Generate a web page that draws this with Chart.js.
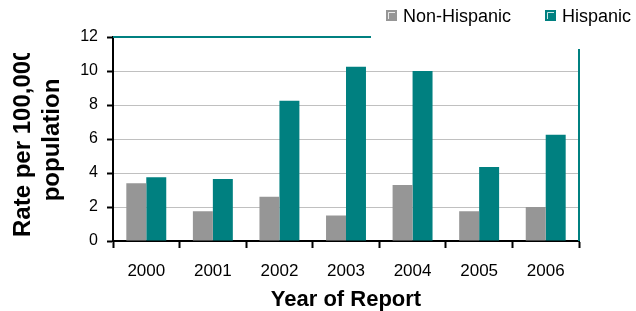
<!DOCTYPE html>
<html>
<head>
<meta charset="utf-8">
<script src="https://cdn.jsdelivr.net/npm/chart.js@4.4.0/dist/chart.umd.min.js"></script>
<style>
	body { margin: 0; background: #fff; }
	canvas { display: block; }
</style>
</head>
<body>
<canvas id="rateChart" width="636" height="311"></canvas>
<script>
let years = ['2000', '2001', '2002', '2003', '2004', '2005', '2006'];
let nonHispanic = [3.4, 1.75, 2.6, 1.5, 3.3, 1.75, 2.0];
let hispanic = [3.75, 3.65, 8.25, 10.25, 10.0, 4.35, 6.25];
let seriesNames = ['Non-Hispanic', 'Hispanic'];
let yTitle = ['Rate per 100,000', 'population'];
let xTitle = 'Year of Report';

const FONT = "'Liberation Sans', Arial, sans-serif";

// teal frame, y title (clipped like the original) and the legend
let framePlugin = {
	id: 'frame',
	afterDraw(chart) {
		let ctx = chart.ctx;
		let area = chart.chartArea;
		ctx.save();

		ctx.strokeStyle = '#008080';
		ctx.lineWidth = 2;
		ctx.beginPath();
		ctx.moveTo(area.left, area.top);
		ctx.lineTo(area.right, area.top);
		ctx.lineTo(area.right, area.bottom);
		ctx.stroke();

		// legend
		ctx.fillStyle = '#fff';
		ctx.fillRect(371, 0, chart.width - 371, 49);
		let boxX = [386, 545];
		ctx.font = '18px ' + FONT;
		ctx.textBaseline = 'middle';
		ctx.textAlign = 'left';
		chart.data.datasets.forEach(function(ds, i) {
			ctx.fillStyle = ds.backgroundColor;
			ctx.fillRect(boxX[i], 10, 11, 11);
			ctx.strokeStyle = 'rgba(255,255,255,0.8)';
			ctx.lineWidth = 1;
			ctx.beginPath();
			ctx.moveTo(boxX[i] + 2.5, 19);
			ctx.lineTo(boxX[i] + 2.5, 12.5);
			ctx.lineTo(boxX[i] + 9, 12.5);
			ctx.stroke();
			ctx.fillStyle = '#000';
			ctx.fillText(ds.label, boxX[i] + 17, 17);
		});

		// y title
		ctx.beginPath();
		ctx.rect(0, 53, 100, chart.height - 53);
		ctx.clip();
		ctx.fillStyle = '#000';
		ctx.font = 'bold 24px ' + FONT;
		ctx.textBaseline = 'alphabetic';
		ctx.translate(30, 237);
		ctx.rotate(-Math.PI / 2);
		ctx.textAlign = 'left';
		ctx.fillText(yTitle[0], 0, 0);
		ctx.textAlign = 'center';
		ctx.fillText(yTitle[1], 97, 29);
		ctx.restore();
	}
};

document.addEventListener('DOMContentLoaded', function() {
	let canvas = document.getElementById('rateChart');
	Chart.defaults.font.family = FONT;

	new Chart(canvas, {
		type: 'bar',
		data: {
			labels: years,
			datasets: [
				{ label: seriesNames[0], data: nonHispanic, backgroundColor: '#969696' },
				{ label: seriesNames[1], data: hispanic, backgroundColor: '#008080' }
			]
		},
		options: {
			responsive: false,
			animation: false,
			layout: { padding: { top: 37, right: 57, left: 0, bottom: 0 } },
			datasets: { bar: { categoryPercentage: 0.6, barPercentage: 1 } },
			plugins: { legend: { display: false }, tooltip: { enabled: false } },
			scales: {
				x: {
					grid: { drawOnChartArea: false, tickLength: 7, tickColor: '#000', tickWidth: 2, offset: true },
					border: { color: '#000', width: 2 },
					ticks: { color: '#000', font: { size: 17 }, padding: 13 },
					title: {
						display: true,
						text: xTitle,
						color: '#000',
						font: { size: 22, weight: 'bold', lineHeight: 1 },
						padding: 0
					},
					afterFit(scale) { scale.height = 70; }
				},
				y: {
					min: 0,
					max: 12,
					ticks: { stepSize: 2, color: '#000', font: { size: 16 }, padding: 9 },
					grid: { color: '#c0c0c0', tickLength: 6, tickColor: '#000', tickWidth: 2 },
					border: { color: '#000', width: 2 },
					afterFit(scale) { scale.width = 113; }
				}
			}
		},
		plugins: [framePlugin]
	});
});
</script>
</body>
</html>
